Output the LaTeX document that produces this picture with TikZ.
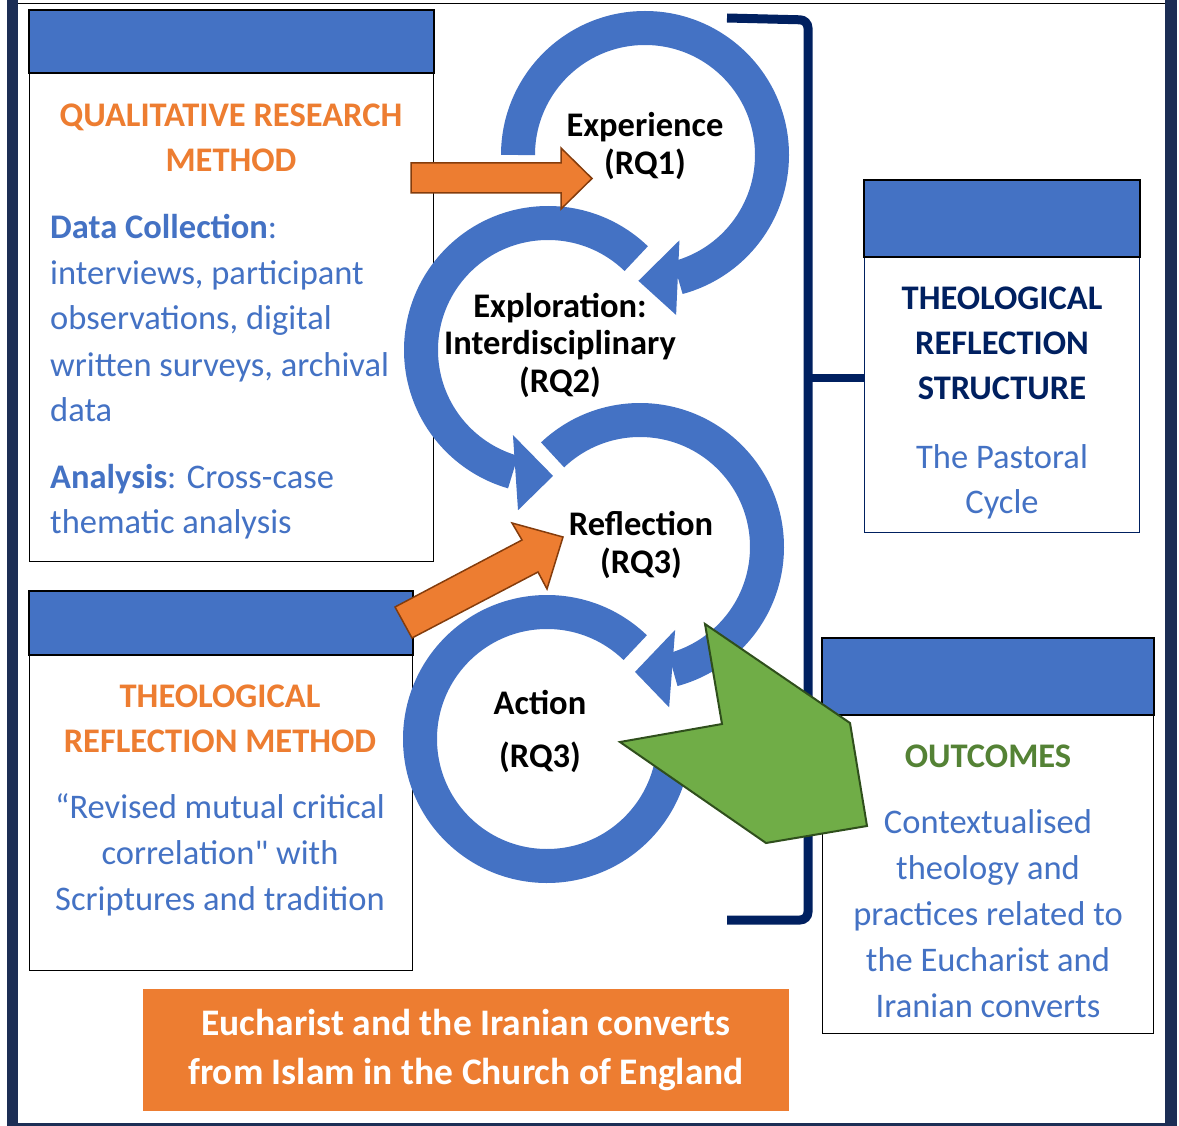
\documentclass[tikz,border=0pt]{standalone}
\usepackage{fontspec}
\setmainfont{Carlito}
\newfontfamily\plainq{Carlito}
\usetikzlibrary{calc}
\definecolor{hblue}{HTML}{4472C4}
\definecolor{tblue}{HTML}{4472C4}
\definecolor{orng}{HTML}{ED7D31}
\definecolor{brwn}{HTML}{843C0C}
\definecolor{gfill}{HTML}{70AD47}
\definecolor{gline}{HTML}{2F4F1C}
\definecolor{gtext}{HTML}{548235}
\definecolor{navy}{HTML}{002060}
\definecolor{frame}{HTML}{1C2E55}
\newcommand{\fsz}{\fontsize{34.5}{40}\selectfont}
\begin{document}
\begin{tikzpicture}[x=1pt,y=1pt,
  t/.style={inner sep=0pt, font=\fsz, anchor=base},
  tb/.style={t, font=\fsz\bfseries},
  tl/.style={t, anchor=base west},
  hdr/.style={fill=hblue, draw=black, line width=2.5pt},
  bodybox/.style={draw=black, line width=1pt, fill=white},
  ring/.style={draw=hblue, line width=34pt},
  ringhead/.style={fill=hblue},
  orarrow/.style={fill=orng, draw=brwn, line width=1.5pt, line join=miter},
  bracket/.style={draw=navy, line width=9pt, rounded corners=8pt}]
\useasboundingbox (0,0) rectangle (1179,-1126);
% frame
\fill[frame] (7,0) rectangle (18,-1126);
\fill[frame] (1165,0) rectangle (1177,-1126);
\fill[frame] (7,-1123) rectangle (1177,-1126);
\draw[black, line width=1pt] (18,-4) -- (1165,-4);
% boxes
\draw[bodybox] (29,-73) rectangle (433,-561);
\draw[hdr] (29,-10) rectangle (434,-73);
\draw[bodybox] (29,-655) rectangle (412,-970);
\draw[hdr] (29,-591) rectangle (413,-655);
\draw[bodybox, draw=navy] (864,-257) rectangle (1139,-532);
\draw[hdr] (864,-180) rectangle (1140,-257);
\draw[bodybox] (822,-715) rectangle (1153,-1033);
\draw[hdr] (822,-638) rectangle (1154,-715);
\fill[orng] (143,-989) rectangle (789,-1111);
% bracket
\draw[bracket] (727,-18) -- (808,-20) -- (808,-920) -- (727,-920);
\draw[navy, line width=8pt] (808,-378) -- (864,-378);
% rings
\coordinate (cE) at (645,-155);
\coordinate (cX) at (548,-350);
\coordinate (cR) at (640,-547);
\coordinate (cA) at (547,-739);
\draw[ring] ($(cE)+(180:127pt)$) arc[start angle=180, end angle=-75, radius=127pt];
\fill[ringhead] ($(cE)+(-68:92pt)$) -- ($(cE)+(-79:163pt)$) -- ($(cE)+(-93:126pt)$) -- cycle;
\draw[ring] ($(cX)+(46:127pt)$) arc[start angle=46, end angle=254, radius=127pt];
\fill[ringhead] ($(cX)+(247.6:92pt)$) -- ($(cX)+(259.4:163pt)$) -- ($(cX)+(272.3:126pt)$) -- cycle;
\draw[ring] ($(cR)+(133.5:127pt)$) arc[start angle=133.5, end angle=-75, radius=127pt];
\fill[ringhead] ($(cR)+(-67:90pt)$) -- ($(cR)+(-79.7:163pt)$) -- ($(cR)+(-92.3:125pt)$) -- cycle;
\draw[ring] ($(cA)+(46:127pt)$) arc[start angle=46, end angle=350, radius=127pt];
% orange arrows
\filldraw[orarrow] (411,-163) -- (561,-163) -- (561,-148) -- (592,-178.5) -- (561,-209) -- (561,-193) -- (411,-193) -- cycle;
\filldraw[orarrow] (395,-607) -- (522,-540) -- (512,-523) -- (563,-537) -- (547,-589) -- (538,-572) -- (412,-638) -- cycle;
% box 1 text
\node[tb, orng] (q1) at (231,-127) {QUALITATIVE RESEARCH};
\node[tb, orng] (q2) at (231,-172) {METHOD};
\node[tl, tblue] (d1) at (50,-239) {\textbf{Data Collection}:};
\node[tl, tblue] (d2) at (50,-285) {interviews, participant};
\node[tl, tblue] (d3) at (50,-330) {observations, digital};
\node[tl, tblue] (d4) at (50,-376) {written surveys, archival};
\node[tl, tblue] (d5) at (50,-421) {data};
\node[tl, tblue] (a1) at (50,-488) {\textbf{Analysis}: Cross-case};
\node[tl, tblue] (a2) at (50,-533) {thematic analysis};
% box 2 text
\node[tb, orng] (m1) at (220,-707) {THEOLOGICAL};
\node[tb, orng] (m2) at (220,-752) {REFLECTION METHOD};
\node[t, tblue] (r1) at (220,-818) {“Revised mutual critical};
\node[t, tblue] (r2) at (220,-864) {correlation{\plainq"} with};
\node[t, tblue] (r3) at (220,-910) {Scriptures and tradition};
% box 3 text
\node[tb, navy] (s1) at (1002,-310) {THEOLOGICAL};
\node[tb, navy] (s2) at (1002,-355) {REFLECTION};
\node[tb, navy] (s3) at (1002,-399) {STRUCTURE};
\node[t, tblue] (p1) at (1002,-468) {The Pastoral};
\node[t, tblue] (p2) at (1002,-513) {Cycle};
% box 4 text
\node[tb, gtext] (o1) at (988,-767) {OUTCOMES};
\node[t, tblue] (o2) at (988,-833) {Contextualised};
\node[t, tblue] (o3) at (988,-879) {theology and};
\node[t, tblue] (o4) at (988,-925) {practices related to};
\node[t, tblue] (o5) at (988,-971) {the Eucharist and};
\node[t, tblue] (o6) at (988,-1017) {Iranian converts};
% title
\node[t, white, font=\fontsize{37.5}{44}\selectfont\bfseries] (e1) at (466,-1035) {Eucharist and the Iranian converts};
\node[t, white, font=\fontsize{37.5}{44}\selectfont\bfseries] (e2) at (466,-1084) {from Islam in the Church of England};
% cycle labels
\node[tb] (l1) at (645,-137) {Experience};
\node[tb] (l2) at (645,-175) {(RQ1)};
\node[tb] (l3) at (560,-317) {Exploration:};
\node[tb] (l4) at (560,-355) {Interdisciplinary};
\node[tb] (l5) at (560,-392) {(RQ2)};
\node[tb] (l6) at (641,-535) {Reflection};
\node[tb] (l7) at (641,-573) {(RQ3)};
\node[tb] (l8) at (540,-714) {Action};
\node[tb] (l9) at (540,-767) {(RQ3)};
% green arrow
\filldraw[fill=gfill, draw=gline, line width=2pt, line join=miter] (705,-624) -- (850,-723) -- (867,-826) -- (766,-843) -- (620,-742) -- (722,-724) -- cycle;
\end{tikzpicture}
\end{document}
